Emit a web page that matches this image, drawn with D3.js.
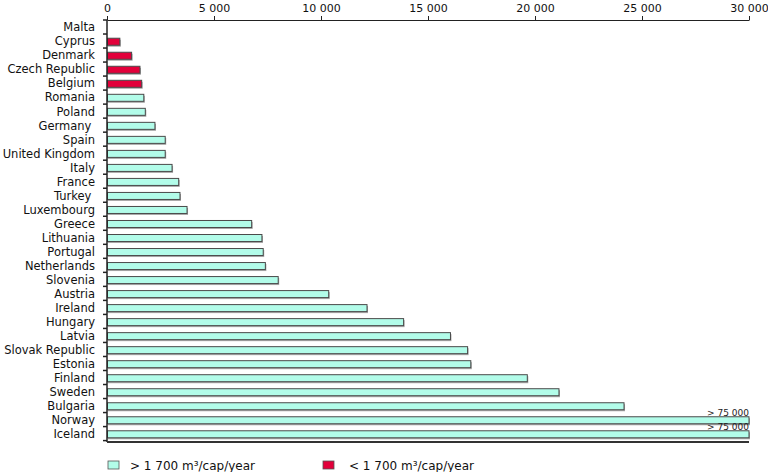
<!DOCTYPE html>
<html>
<head>
<meta charset="utf-8">
<script src="https://cdn.jsdelivr.net/npm/d3@7"></script>
<style>
  html, body { margin: 0; padding: 0; background: #fff; }
  svg { display: block; font-family: "DejaVu Sans", Verdana, sans-serif; }
</style>
</head>
<body>
<svg id="chart" width="768" height="472"></svg>
<script>
// Water availability (m3/cap/year)
const countries = ["Malta", "Cyprus", "Denmark", "Czech Republic", "Belgium", "Romania", "Poland", "Germany ",
  "Spain", "United Kingdom", "Italy", "France", "Turkey ", "Luxembourg", "Greece", "Lithuania", "Portugal",
  "Netherlands", "Slovenia", "Austria", "Ireland", "Hungary", "Latvia", "Slovak Republic", "Estonia",
  "Finland", "Sweden", "Bulgaria", "Norway", "Iceland"];
const values = [0, 600, 1150, 1540, 1620, 1720, 1790, 2240,
  2720, 2720, 3040, 3350, 3410, 3740, 6760, 7240, 7300,
  7400, 8000, 10360, 12150, 13860, 16050, 16850, 17000,
  19640, 21120, 24160, 75000, 75000];
const xTicks = [0, 5000, 10000, 15000, 20000, 25000, 30000];
const threshold = 1700;
const overflowLabel = "> 75 000";
const legendLabels = ["> 1 700 m\u00b3/cap/year", "< 1 700 m\u00b3/cap/year"];
const colors = ["#b2fce9", "#e2003a"];

(function () {
const data = countries.map((c, i) => ({ name: c, value: values[i] }));
const svg = d3.select("#chart");
const mL = 107, mR = 749, mT = 20, mB = 442;

const x = d3.scaleLinear().domain([0, 30000]).range([mL, mR]).clamp(true);
const y = d3.scaleBand().domain(countries).range([mT, mB]).paddingInner(0.5).paddingOuter(0.3);

const fmt = v => d3.format(",")(v).replace(/,/g, " ");

// Top axis
const xAxis = svg.append("g").attr("transform", `translate(0,${mT})`)
  .call(d3.axisTop(x).tickValues(xTicks).tickFormat(fmt).tickSize(4).tickSizeOuter(0));
xAxis.select(".domain").attr("stroke", "#222");
xAxis.selectAll(".tick line").attr("stroke", "#222");
xAxis.selectAll("text").attr("font-size", 11).attr("fill", "#111").attr("dy", "-0.1em")
  .attr("font-family", "DejaVu Sans, Verdana, sans-serif");

// Bars (shadow + bar)
const bh = y.bandwidth();
const shown = data.filter(d => d.value > 0);
svg.append("g").selectAll("rect").data(shown).join("rect")
  .attr("x", mL + 1).attr("y", d => y(d.name) + 1.5)
  .attr("width", d => x(d.value) - mL).attr("height", bh)
  .attr("fill", "#a8a8a8");
svg.append("g").selectAll("rect").data(shown).join("rect")
  .attr("x", mL + 0.5).attr("y", d => y(d.name))
  .attr("width", d => x(d.value) - mL - 0.5).attr("height", bh)
  .attr("fill", d => d.value < threshold ? colors[1] : colors[0])
  .attr("stroke", "#4a4a4a").attr("stroke-width", 1);

// Overflow labels
svg.append("g").selectAll("text").data(data.filter(d => d.value > 30000)).join("text")
  .attr("x", mR).attr("y", d => y(d.name) - 1)
  .attr("text-anchor", "end").attr("font-size", 9).attr("fill", "#222")
  .text(overflowLabel);

// Left axis
const yAxis = svg.append("g").attr("transform", `translate(${mL},0)`)
  .call(d3.axisLeft(y).tickSize(0).tickPadding(12));
yAxis.select(".domain").remove();
yAxis.selectAll("text").attr("font-size", 11.5).attr("fill", "#111")
  .style("white-space", "pre").attr("font-family", "DejaVu Sans, Verdana, sans-serif");
svg.append("line").attr("x1", mL).attr("x2", mL).attr("y1", mT).attr("y2", mB)
  .attr("stroke", "#222").attr("stroke-width", 1.5);
// category boundary ticks
const step = y.step();
svg.append("g").selectAll("line").data(d3.range(countries.length + 1)).join("line")
  .attr("x1", mL - 4).attr("x2", mL)
  .attr("y1", i => mT + i * step).attr("y2", i => mT + i * step)
  .attr("stroke", "#222").attr("stroke-width", 1.5);
// bottom baseline
svg.append("line").attr("x1", mL).attr("x2", mR).attr("y1", mB).attr("y2", mB)
  .attr("stroke", "#333").attr("stroke-width", 2);

// Legend
const legX = [108, 323];
const lg = svg.append("g").selectAll("g").data(legendLabels).join("g")
  .attr("transform", (d, i) => `translate(${legX[i]},460)`);
lg.append("rect").attr("width", 11).attr("height", 8).attr("y", 1)
  .attr("fill", (d, i) => colors[i]).attr("stroke", "#555").attr("stroke-width", 0.8);
lg.append("text").attr("x", (d, i) => i === 0 ? 22 : 26).attr("y", 9.5)
  .attr("font-size", 12).attr("fill", "#111").text(d => d);
})();
</script>
</body>
</html>
